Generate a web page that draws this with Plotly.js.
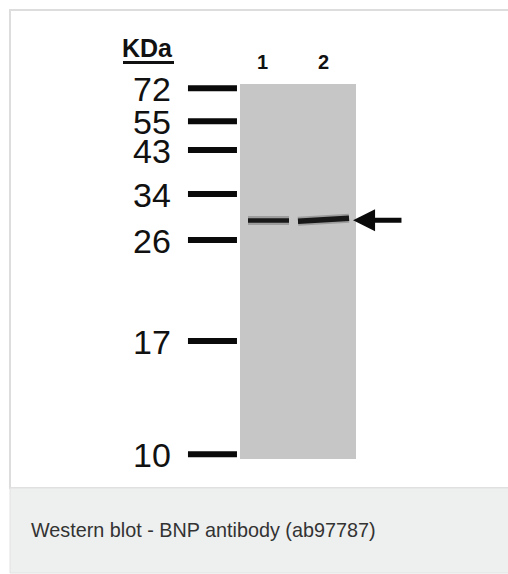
<!DOCTYPE html>
<html>
<head>
<meta charset="utf-8">
<script src="https://cdn.plot.ly/plotly-3.0.1.min.js"></script>
<style>html,body{margin:0;padding:0;background:#fff;}#chart{width:508px;height:574px;}</style>
</head>
<body>
<div id="chart"></div>
<script>
// Molecular weight ladder (kDa) and relative migration (0 = top of gel, 1 = bottom)
const markerLabels = ["72", "55", "43", "34", "26", "17", "10"];
const markerRf = [0.011, 0.099, 0.176, 0.293, 0.416, 0.685, 0.987];
// Lanes
const laneNames = ["1", "2"];
const laneLabelX = [0.89, 1.94];
// Detected band (BNP) per lane: x extent and migration at left / right ends
const bandLeft = [0.638, 1.50];
const bandRight = [1.345, 2.38];
const bandRfLeft = [0.364, 0.366];
const bandRfRight = [0.364, 0.358];
const bandRfArrow = 0.363;
const caption = "Western blot - BNP antibody (ab97787)";

const W = 508, H = 574;
const FONT = "Liberation Sans, Arial, sans-serif";

const traces = [];
// ladder marks
markerRf.forEach((rf) => {
  traces.push({x: [-0.397, 0.448], y: [rf, rf], mode: "lines", type: "scatter",
    line: {color: "#0a0a0a", width: 6}, hoverinfo: "skip", cliponaxis: false});
});
// bands (soft halo + core)
laneNames.forEach((ln, i) => {
  const xs = [bandLeft[i], bandRight[i]];
  const ys = [bandRfLeft[i], bandRfRight[i]];
  traces.push({x: xs, y: ys, mode: "lines", type: "scatter",
    line: {color: "rgba(60,60,60,0.3)", width: 9}, hoverinfo: "skip"});
  traces.push({x: xs, y: ys, mode: "lines", type: "scatter",
    line: {color: "#181818", width: i === 0 ? 4.5 : 5.5}, hoverinfo: "skip"});
});

const annotations = [];
markerLabels.forEach((lab, i) => {
  annotations.push({x: -0.655, y: markerRf[i], xref: "x", yref: "y", text: lab,
    showarrow: false, xanchor: "right", yanchor: "middle", yshift: -1,
    font: {family: FONT, size: 34, color: "#111"}});
});
laneNames.forEach((ln, i) => {
  annotations.push({x: laneLabelX[i], y: 1 - 62 / H, xref: "x", yref: "paper", text: "<b>" + ln + "</b>",
    showarrow: false, xanchor: "center", yanchor: "middle",
    font: {family: FONT, size: 20, color: "#111"}});
});
annotations.push({x: 175 / W, y: 1 - 48 / H, xref: "paper", yref: "paper", text: "<b>KDa</b>",
  showarrow: false, xanchor: "right", yanchor: "middle",
  font: {family: FONT, size: 25, color: "#111"}});
// arrow pointing at the band
annotations.push({x: 2.45, y: bandRfArrow, xref: "x", yref: "y", ax: 3.31, ay: bandRfArrow,
  axref: "x", ayref: "y", text: "", showarrow: true, arrowhead: 2, arrowwidth: 5,
  arrowsize: 0.88, arrowcolor: "#0a0a0a", standoff: 0});
annotations.push({x: 29 / W, y: 1 - 530 / H, xref: "paper", yref: "paper", text: caption,
  showarrow: false, xanchor: "left", yanchor: "middle",
  font: {family: FONT, size: 19.8, color: "#333"}});

const shapes = [
  // figure frame
  {type: "rect", xref: "paper", yref: "paper", x0: 10 / W, x1: 1.05, y0: 1 - 488 / H, y1: 1 - 10 / H,
    fillcolor: "#ffffff", line: {color: "#dddddd", width: 2}, layer: "below"},
  // caption box
  {type: "rect", xref: "paper", yref: "paper", x0: 10 / W, x1: 1.05, y0: 1 / H, y1: 1 - 488 / H,
    fillcolor: "#eeefef", line: {color: "#e2e2e2", width: 1}, layer: "below"},
  // gel
  {type: "rect", xref: "x", yref: "y", x0: 0.5, x1: 2.5, y0: 0, y1: 1,
    fillcolor: "#c6c6c6", line: {width: 0}, layer: "below"},
  // KDa underline
  {type: "line", xref: "paper", yref: "paper", x0: 123 / W, x1: 174 / W, y0: 1 - 62.5 / H, y1: 1 - 62.5 / H,
    line: {color: "#111", width: 3}}
];

const layout = {
  width: W, height: H, margin: {l: 0, r: 0, t: 0, b: 0},
  paper_bgcolor: "#ffffff", plot_bgcolor: "rgba(0,0,0,0)", showlegend: false,
  xaxis: {domain: [0, 1], range: [-3.638, 5.121], visible: false, fixedrange: true},
  yaxis: {domain: [1 - 459 / H, 1 - 84 / H], range: [1, 0], autorange: false, visible: false, fixedrange: true},
  shapes: shapes, annotations: annotations
};
Plotly.newPlot("chart", traces, layout, {displayModeBar: false, staticPlot: true});
</script>
</body>
</html>
